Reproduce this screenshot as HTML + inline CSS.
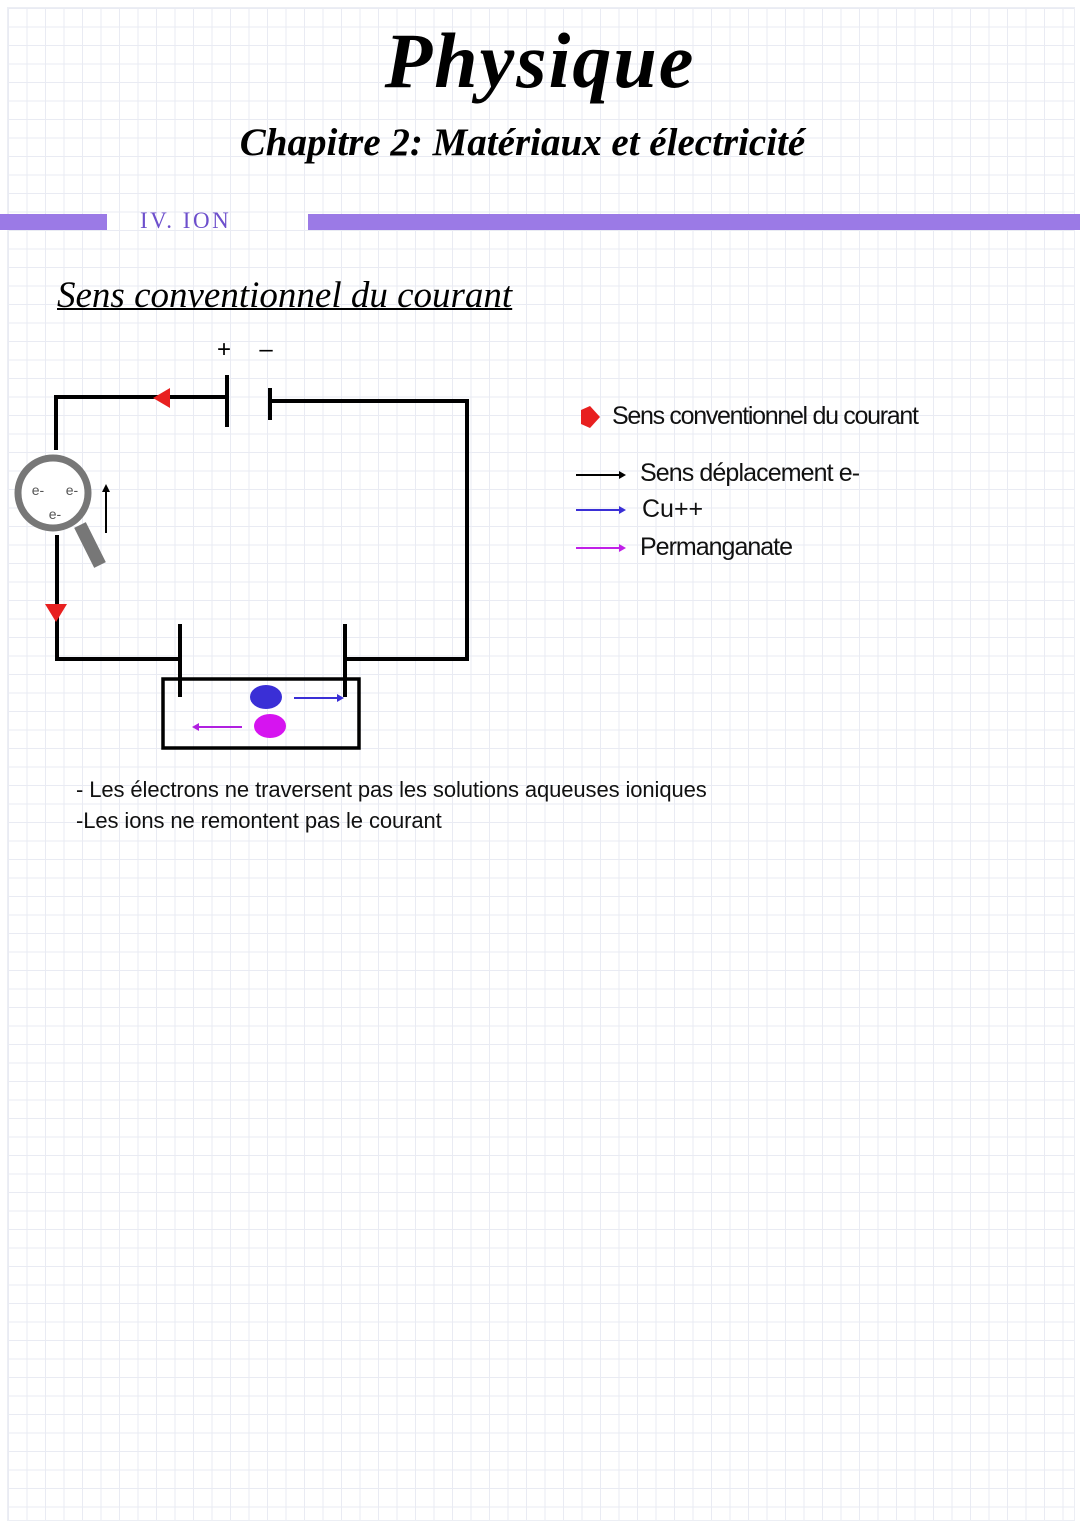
<!DOCTYPE html>
<html><head><meta charset="utf-8"><style>
body{margin:0;width:1080px;height:1526px;position:relative;overflow:hidden;background:#fff;font-family:"Liberation Sans",sans-serif}
.grid{position:absolute;left:7px;top:7px;width:1066px;height:1512px;
background-image:linear-gradient(#e9ebf3 1px,transparent 1px),linear-gradient(90deg,#e9ebf3 1px,transparent 1px);background-size:18.5px 18.5px;border:1px solid #eceef4}
.t{position:absolute;white-space:nowrap}
</style></head><body>
<div class="grid"></div>
<div class="t" style="left:0;width:1080px;top:16px;text-align:center;font:italic bold 78px 'Liberation Serif',serif;color:#000;letter-spacing:2px">Physique</div>
<div class="t" style="left:0;width:1045px;top:120px;text-align:center;font:italic bold 39px 'Liberation Serif',serif;color:#000">Chapitre 2: Matériaux et électricité</div>
<div style="position:absolute;left:0;top:214px;width:107px;height:16px;background:#9b7ae6"></div>
<div style="position:absolute;left:308px;top:214px;width:772px;height:16px;background:#9b7ae6"></div>
<div class="t" style="left:140px;top:208px;font:23px 'Liberation Serif',serif;color:#6d4fcc;letter-spacing:2.5px">IV. ION</div>
<div class="t" style="left:57px;top:274px;font:italic 37px 'Liberation Serif',serif;text-decoration:underline;text-decoration-thickness:2px">Sens conventionnel du courant</div>
<svg style="position:absolute;left:0;top:0" width="1080" height="900">
<g stroke="#000" stroke-width="4" fill="none">
<polyline points="56,450 56,397 227,397"/>
<line x1="227" y1="375" x2="227" y2="427"/>
<line x1="270" y1="388" x2="270" y2="420"/>
<polyline points="270,401 467,401 467,659 345,659"/>
<line x1="345" y1="624" x2="345" y2="697"/>
<line x1="180" y1="624" x2="180" y2="697"/>
<polyline points="57,535 57,659 180,659"/>
<rect x="163" y="679" width="196" height="69" stroke-width="3.5"/>
</g>
<text x="224" y="357" font-size="24" text-anchor="middle">+</text>
<text x="266" y="357" font-size="24" text-anchor="middle">–</text>
<polygon points="153,398 170,388 170,408" fill="#e82020"/>
<polygon points="56,622 45,604 67,604" fill="#e82020"/>
<line x1="80" y1="525" x2="100" y2="565" stroke="#777" stroke-width="13"/>
<circle cx="53" cy="493" r="35" fill="#fff" stroke="#777" stroke-width="7"/>
<text x="38" y="495" font-size="14" fill="#555" text-anchor="middle">e-</text>
<text x="72" y="495" font-size="14" fill="#555" text-anchor="middle">e-</text>
<text x="55" y="519" font-size="14" fill="#555" text-anchor="middle">e-</text>
<line x1="106" y1="533" x2="106" y2="490" stroke="#000" stroke-width="2"/>
<polygon points="106,484 102,492 110,492" fill="#000"/>
<ellipse cx="266" cy="697" rx="16" ry="12" fill="#3a2fd6"/>
<ellipse cx="270" cy="726" rx="16" ry="12" fill="#d614f0"/>
<line x1="294" y1="698" x2="338" y2="698" stroke="#3a2fd6" stroke-width="2"/>
<polygon points="344,698 337,694 337,702" fill="#3a2fd6"/>
<line x1="242" y1="727" x2="198" y2="727" stroke="#b020e0" stroke-width="2"/>
<polygon points="192,727 199,723 199,731" fill="#b020e0"/>
<polygon points="581,410 590,406 600,417 590,428 581,424" fill="#e82020"/>
<line x1="576" y1="475" x2="620" y2="475" stroke="#000" stroke-width="2"/><polygon points="626,475 619,471 619,479" fill="#000"/>
<line x1="576" y1="510" x2="620" y2="510" stroke="#3a2fd6" stroke-width="2"/><polygon points="626,510 619,506 619,514" fill="#3a2fd6"/>
<line x1="576" y1="548" x2="620" y2="548" stroke="#c020e8" stroke-width="2"/><polygon points="626,548 619,544 619,552" fill="#c020e8"/>
</svg>
<div class="t" style="left:612px;top:402px;font-size:25px;color:#111;letter-spacing:-1.3px">Sens conventionnel du courant</div>
<div class="t" style="left:640px;top:459px;font-size:25px;color:#111;letter-spacing:-0.9px">Sens déplacement e-</div>
<div class="t" style="left:642px;top:495px;font-size:25px;color:#111">Cu++</div>
<div class="t" style="left:640px;top:533px;font-size:25px;color:#111;letter-spacing:-1px">Permanganate</div>
<div class="t" style="left:76px;top:777px;font-size:22px;color:#111;letter-spacing:-0.1px">- Les électrons ne traversent pas les solutions aqueuses ioniques</div>
<div class="t" style="left:76px;top:808px;font-size:22px;color:#111;letter-spacing:-0.1px">-Les ions ne remontent pas le courant</div>
</body></html>
